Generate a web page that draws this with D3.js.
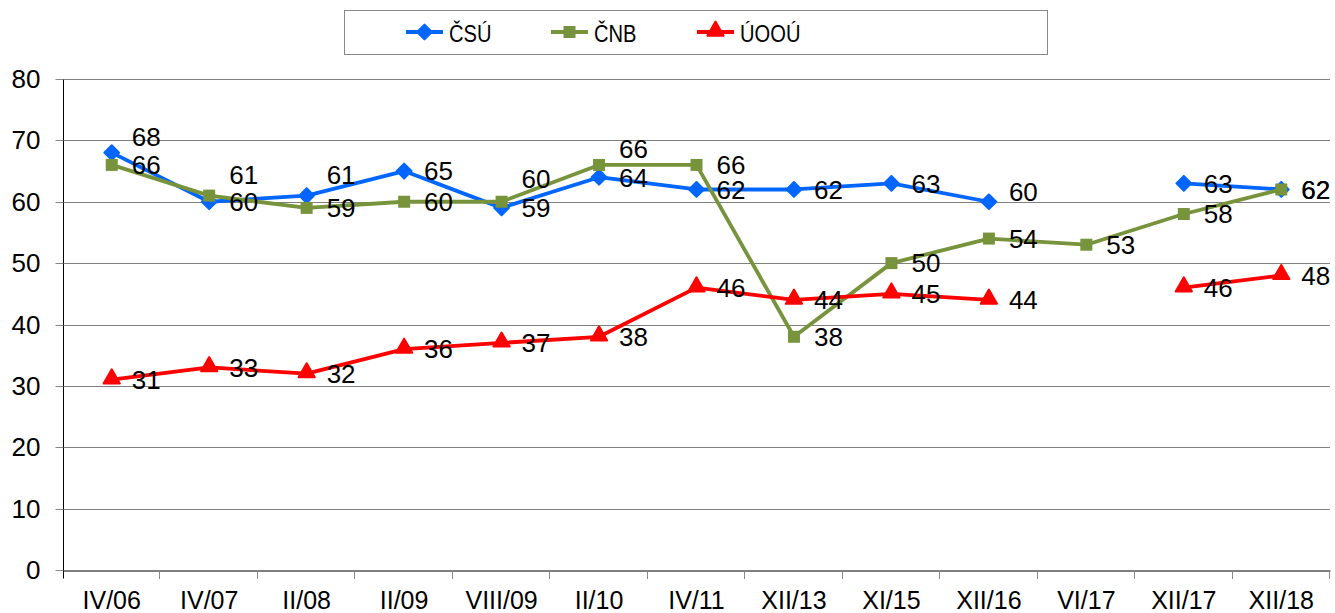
<!DOCTYPE html>
<html>
<head>
<meta charset="utf-8">
<script src="https://cdn.jsdelivr.net/npm/d3@7"></script>
<style>
  body { margin: 0; background: #fff; }
  text { font-family: "Liberation Sans", Arial, sans-serif; fill: #000; }
</style>
</head>
<body>
<script>
const categories = ['IV/06', 'IV/07', 'II/08', 'II/09', 'VIII/09', 'II/10', 'IV/11', 'XII/13', 'XI/15', 'XII/16', 'VI/17', 'XII/17', 'XII/18'];
const csu = [68, 60, 61, 65, 59, 64, 62, 62, 63, 60, null, 63, 62];
const cnb = [66, 61, 59, 60, 60, 66, 66, 38, 50, 54, 53, 58, 62];
const uoou = [31, 33, 32, 36, 37, 38, 46, 44, 45, 44, null, 46, 48];
const yTicks = [0, 10, 20, 30, 40, 50, 60, 70, 80];

const width = 1335, height = 613;

// series styling
const series = [
  { name: 'ČSÚ', values: csu, color: '#0066ff', marker: 'diamond' },
  { name: 'ČNB', values: cnb, color: '#77933c', marker: 'square' },
  { name: 'ÚOOÚ', values: uoou, color: '#ff0000', marker: 'triangle' }
];

// labels that were nudged upward in the original (series index : point index -> px)
const labelLift = { '0:0': -16, '0:2': -21, '0:9': -10, '1:1': -21, '1:4': -23, '1:5': -16 };

const svg = d3.select('body')
  .append('svg')
  .attr('width', width)
  .attr('height', height);

const x = d3.scaleBand().domain(categories).range([63, 1330]);
const y = d3.scaleLinear().domain([0, 80]).range([570, 79]);

// gridlines
svg.append('g')
  .selectAll('line')
  .data(yTicks.filter(d => d > 0))
  .join('line')
  .attr('x1', 63).attr('x2', 1330)
  .attr('y1', d => Math.round(y(d)) + 0.5)
  .attr('y2', d => Math.round(y(d)) + 0.5)
  .attr('stroke', '#808080')
  .attr('stroke-width', 1);

// y axis
const yAxis = svg.append('g')
  .attr('transform', 'translate(63.5,0.5)')
  .call(d3.axisLeft(y).tickValues(yTicks).tickSize(8).tickSizeOuter(0).tickPadding(15));
yAxis.select('.domain').attr('stroke', '#000').attr('d', 'M0,' + Math.round(y(80)) + 'V578');
yAxis.selectAll('.tick line').attr('stroke', '#888');
yAxis.selectAll('.tick text')
  .attr('font-size', 26)
  .attr('font-family', '"Liberation Sans", Arial, sans-serif')
  .attr('fill', '#000');
yAxis.selectAll('.tick').attr('transform', d => `translate(0,${Math.round(y(d))})`);

// x axis
const xAxis = svg.append('g')
  .attr('transform', `translate(0,${Math.round(y(0)) + 0.5})`)
  .call(d3.axisBottom(x).tickSize(0).tickSizeOuter(0).tickPadding(21));
xAxis.select('.domain').attr('stroke', '#000');
xAxis.selectAll('.tick text')
  .attr('font-size', 25)
  .attr('font-family', '"Liberation Sans", Arial, sans-serif')
  .attr('fill', '#000');

// category boundary ticks
const bounds = categories.map(c => x(c)).concat([x.range()[1]]);
svg.append('g')
  .selectAll('line')
  .data(bounds.slice(1))
  .join('line')
  .attr('x1', d => Math.round(d) - 0.5).attr('x2', d => Math.round(d) - 0.5)
  .attr('y1', Math.round(y(0)) + 1).attr('y2', Math.round(y(0)) + 9)
  .attr('stroke', '#888');

function markerPath(type) {
  if (type === 'diamond') return d3.symbol(d3.symbolSquare, 110)();
  if (type === 'square') return d3.symbol(d3.symbolSquare, 144)();
  return d3.symbol(d3.symbolTriangle, 115)();
}
function markerTransform(type, px, py) {
  if (type === 'diamond') return `translate(${px},${py}) rotate(45)`;
  if (type === 'triangle') return `translate(${px},${py - 1})`;
  return `translate(${px},${py})`;
}

const line = d3.line()
  .defined(d => d.v != null)
  .x(d => x(d.c) + x.bandwidth() / 2)
  .y(d => y(d.v));

series.forEach(s => {
  const pts = categories.map((c, i) => ({ c, v: s.values[i] }));
  const g = svg.append('g');
  g.append('path')
    .datum(pts)
    .attr('d', line)
    .attr('fill', 'none')
    .attr('stroke', s.color)
    .attr('stroke-width', 3.8)
    .attr('stroke-linejoin', 'round');
  g.selectAll('path.mk')
    .data(pts.filter(d => d.v != null))
    .join('path')
    .attr('class', 'mk')
    .attr('d', markerPath(s.marker))
    .attr('transform', d => markerTransform(s.marker, x(d.c) + x.bandwidth() / 2, y(d.v)))
    .attr('fill', s.color)
    .attr('stroke', s.color)
    .attr('stroke-width', s.marker === 'square' ? 0 : 2)
    .attr('stroke-linejoin', 'round');
});

// data labels
series.forEach((s, si) => {
  svg.append('g')
    .selectAll('text')
    .data(categories.map((c, i) => ({ c, v: s.values[i], i })).filter(d => d.v != null))
    .join('text')
    .attr('x', d => x(d.c) + x.bandwidth() / 2 + 20)
    .attr('y', d => y(d.v) + (labelLift[si + ':' + d.i] || 0))
    .attr('dy', '0.36em')
    .attr('font-size', 26)
    .text(d => d.v);
});

// legend
const legend = svg.append('g');
legend.append('rect')
  .attr('x', 344.5).attr('y', 10.5)
  .attr('width', 703).attr('height', 44)
  .attr('fill', '#fff')
  .attr('stroke', '#888');

const legendX = [406, 551, 697];
series.forEach((s, i) => {
  const lx = legendX[i];
  const item = legend.append('g');
  item.append('line')
    .attr('x1', lx).attr('x2', lx + 37)
    .attr('y1', 32).attr('y2', 32)
    .attr('stroke', s.color)
    .attr('stroke-width', 3.8);
  item.append('path')
    .attr('d', markerPath(s.marker))
    .attr('transform', markerTransform(s.marker, lx + 18.5, 32))
    .attr('fill', s.color)
    .attr('stroke', s.color)
    .attr('stroke-width', s.marker === 'square' ? 0 : 2)
    .attr('stroke-linejoin', 'round');
  item.append('text')
    .attr('x', 0)
    .attr('y', 0)
    .attr('dy', '0.36em')
    .attr('font-size', 24)
    .attr('transform', `translate(${lx + 43},33) scale(0.84,1)`)
    .text(s.name);
});
</script>
</body>
</html>
